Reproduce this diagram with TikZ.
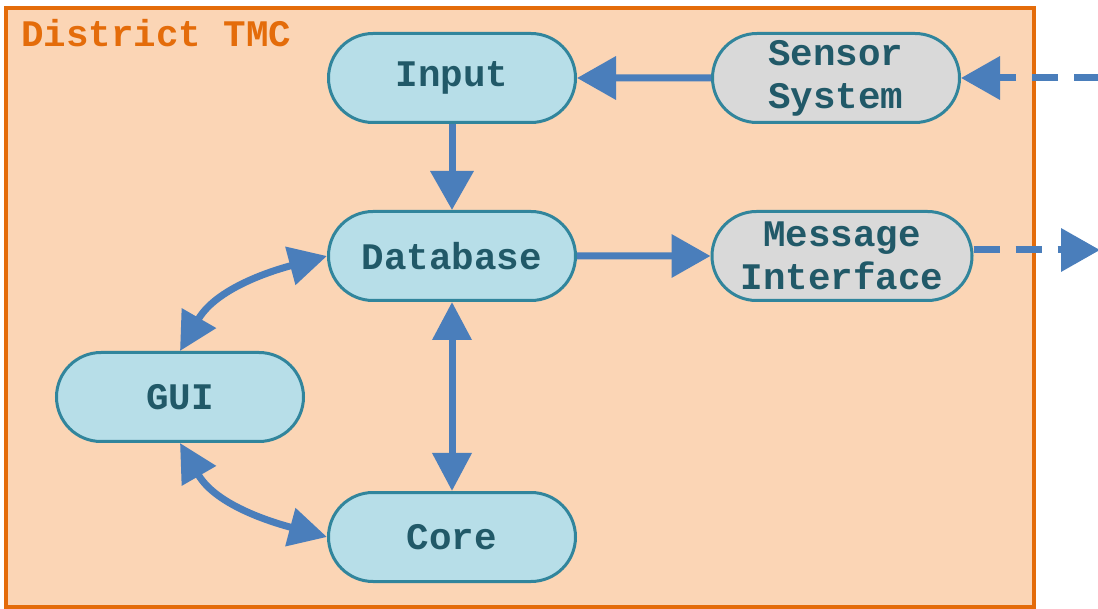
\documentclass[tikz,border=0pt]{standalone}
\usepackage{fontspec}
\newfontfamily\cour{Liberation Mono}
\usetikzlibrary{arrows.meta,shapes.misc}
\definecolor{frameorange}{HTML}{E46C0A}
\definecolor{framefill}{HTML}{FBD5B5}
\definecolor{arrowblue}{HTML}{4A7EBB}
\definecolor{nodeblue}{HTML}{B7DEE8}
\definecolor{nodeedge}{HTML}{31859C}
\definecolor{nodegray}{HTML}{D9D9D9}
\definecolor{nodetext}{HTML}{215968}
\begin{document}
\begin{tikzpicture}[x=1pt,y=1pt,
  box/.style={rounded rectangle, draw=nodeedge, line width=3pt, fill=nodeblue,
    minimum width=247pt, minimum height=89pt, text=nodetext,
    font=\cour\bfseries\fontsize{37.5}{43}\selectfont, align=center, inner sep=0pt},
  graybox/.style={box, fill=nodegray},
  conn/.style={draw=arrowblue, line width=7pt},
  arr/.style={-{Triangle[length=39pt,width=42pt]}},
  arrboth/.style={{Triangle[length=38pt,width=38pt]}-{Triangle[length=38pt,width=38pt]}},
  dashline/.style={dash pattern=on 26pt off 16pt}]
\useasboundingbox (0,0) rectangle (1098,-609);
\draw[draw=frameorange, fill=framefill, line width=4pt] (6,-8) rectangle (1034,-607);
\node[anchor=base west, inner sep=0pt, text=frameorange, font=\cour\bfseries\fontsize{37.5}{43}\selectfont] (title) at (21,-47) {District TMC};
\node[box] (input) at (452,-78) {Input};
\node[graybox] (sensor) at (836,-78) {Sensor\\System};
\node[box] (db) at (452,-256) {Database};
\node[graybox, minimum width=260pt] (msg) at (842,-256) {Message\\Interface};
\node[box] (gui) at (180,-397) {GUI};
\node[box] (core) at (452,-537) {Core};
\coordinate (extin) at (1100,-78);
\coordinate (extout) at (1100,-250);
\draw[conn, arr] (sensor) -- (input);
\draw[conn, arr, dashline] (extin) -- (sensor.east);
\draw[conn, arr] (input) -- (db);
\draw[conn, arr] (db) -- (msg);
\draw[conn, arr, dashline] (msg.east |- extout) -- (extout);
\draw[conn, arrboth] (db) -- (core);
\draw[conn, arrboth] (gui.north) to[out=60,in=195] (db.west);
\draw[conn, arrboth] (gui.south) to[out=-60,in=165] (core.west);
\end{tikzpicture}
\end{document}
